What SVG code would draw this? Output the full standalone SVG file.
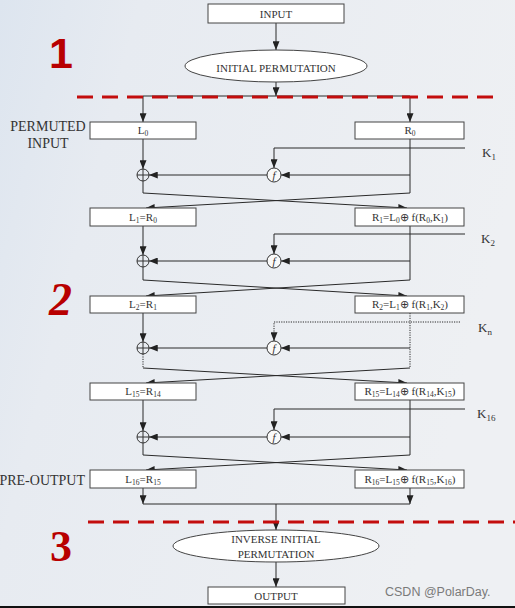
<svg xmlns="http://www.w3.org/2000/svg" width="515" height="608" viewBox="0 0 515 608">
<defs>
<linearGradient id="bg" x1="0" y1="0" x2="1" y2="0.3">
<stop offset="0" stop-color="#dde5ef"/>
<stop offset="0.25" stop-color="#e7ebf1"/>
<stop offset="1" stop-color="#eef0f3"/>
</linearGradient>
<marker id="ah" viewBox="0 0 10 8" refX="10" refY="4" markerWidth="9" markerHeight="7" orient="auto" markerUnits="userSpaceOnUse">
<path d="M0,0 L10,4 L0,8 z" fill="#222"/>
</marker>
<style>
.box{fill:#fff;stroke:#444;stroke-width:1}
.ell{fill:#fff;stroke:#444;stroke-width:1}
.t{font-family:"Liberation Serif","Times New Roman",serif;fill:#333;text-anchor:middle}
.bt{font-size:11px}
.lbl{font-family:"Liberation Serif","Times New Roman",serif;fill:#333;font-size:14px}
.k{font-family:"Liberation Serif","Times New Roman",serif;fill:#333;font-size:13px}
.ln{fill:none;stroke:#2a2a2a;stroke-width:1}
.ar{marker-end:url(#ah)}
.dot{stroke-dasharray:1.2 1.2}
.red{fill:none;stroke:#c30d0d;stroke-width:3;stroke-dasharray:16 9}
.num{fill:#b80000;font-weight:bold}
.xor{fill:none;stroke:#333;stroke-width:1}
.fc{fill:#f9f9f9;stroke:#333;stroke-width:1}
</style>
</defs>
<rect x="0" y="0" width="515" height="608" fill="url(#bg)"/>

<g id="connectors">
<line class="ln ar" x1="276" y1="23" x2="276" y2="50"/>
<line class="ln ar" x1="276" y1="82" x2="276" y2="96"/>
<polyline class="ln ar" points="276,96 143,96 143,122"/>
<polyline class="ln ar" points="276,96 410,96 410,122"/>

<line class="ln ar" x1="143" y1="139" x2="143" y2="169"/>
<line class="ln" x1="410" y1="139" x2="410" y2="193"/>
<line class="ln ar" x1="410" y1="175" x2="281" y2="175"/>
<line class="ln ar" x1="267" y1="175" x2="149" y2="175"/>
<polyline class="ln ar" points="465,148 274,148 274,168"/>
<polyline class="ln ar" points="143,181 143,193 407,208"/>
<polyline class="ln ar" points="410,193 146,208"/>

<line class="ln ar" x1="143" y1="226" x2="143" y2="255"/>
<line class="ln" x1="410" y1="226" x2="410" y2="280"/>
<line class="ln ar" x1="410" y1="261" x2="281" y2="261"/>
<line class="ln ar" x1="267" y1="261" x2="149" y2="261"/>
<polyline class="ln ar" points="465,234 274,234 274,254"/>
<polyline class="ln ar" points="143,267 143,280 407,296"/>
<polyline class="ln ar" points="410,280 146,296"/>

<line class="ln ar" x1="143" y1="313" x2="143" y2="342"/>
<line class="ln dot" x1="410" y1="313" x2="410" y2="368"/>
<line class="ln ar" x1="410" y1="348" x2="281" y2="348"/>
<line class="ln ar" x1="267" y1="348" x2="149" y2="348"/>
<polyline class="ln dot" points="460,322 274,322 274,334"/>
<line class="ln ar" x1="274" y1="333" x2="274" y2="341"/>
<line class="ln dot" x1="143" y1="354" x2="143" y2="368"/>
<polyline class="ln ar" points="143,368 407,383"/>
<polyline class="ln ar" points="410,368 146,383"/>

<line class="ln ar" x1="143" y1="400" x2="143" y2="431"/>
<line class="ln" x1="410" y1="400" x2="410" y2="455"/>
<line class="ln ar" x1="410" y1="437" x2="281" y2="437"/>
<line class="ln ar" x1="267" y1="437" x2="149" y2="437"/>
<polyline class="ln ar" points="465,409 274,409 274,430"/>
<polyline class="ln ar" points="143,443 143,455 407,470"/>
<polyline class="ln ar" points="410,455 146,470"/>

<line class="ln ar" x1="143" y1="488" x2="143" y2="504"/>
<line class="ln ar" x1="410" y1="488" x2="410" y2="504"/>
<line class="ln" x1="143" y1="504" x2="410" y2="504"/>
<line class="ln ar" x1="276" y1="504" x2="276" y2="530"/>
<line class="ln ar" x1="276" y1="562" x2="276" y2="587"/>
</g>

<g id="dividers">
<line class="red" x1="77" y1="97" x2="500" y2="97"/>
<line class="red" x1="88" y1="522" x2="515" y2="522"/>
<text class="num" x="49" y="68" font-size="43" font-family="'Liberation Sans',Arial,sans-serif">1</text>
<text class="num" x="49" y="315" font-size="46" font-style="italic" font-family="'Liberation Serif','Times New Roman',serif">2</text>
<text class="num" x="50" y="561" font-size="44" font-family="'Liberation Serif','Times New Roman',serif">3</text>
</g>

<g id="input">
<rect class="box" x="208" y="4" width="136" height="19"/>
<text class="t" x="276" y="18" font-size="11">INPUT</text>
</g>
<g id="ip">
<ellipse class="ell" cx="276" cy="66" rx="91" ry="16"/>
<text class="t" x="276" y="72" font-size="11">INITIAL PERMUTATION</text>
</g>

<g id="label-permuted">
<text class="lbl" x="48" y="131" text-anchor="middle">PERMUTED</text>
<text class="lbl" x="48" y="148" text-anchor="middle">INPUT</text>
</g>
<g id="label-preoutput">
<text class="lbl" x="85" y="485" text-anchor="end">PRE-OUTPUT</text>
</g>

<g id="L0"><rect class="box" x="90" y="122" width="106" height="17"/>
<text class="t bt" x="143" y="134">L<tspan dy="2" font-size="7.5">0</tspan></text></g>
<g id="R0"><rect class="box" x="355" y="122" width="109" height="17"/>
<text class="t bt" x="410" y="134">R<tspan dy="2" font-size="7.5">0</tspan></text></g>

<g id="L1"><rect class="box" x="90" y="208" width="106" height="18"/>
<text class="t bt" x="143" y="221">L<tspan dy="2" font-size="7.5">1</tspan><tspan dy="-2">=R</tspan><tspan dy="2" font-size="7.5">0</tspan></text></g>
<g id="R1"><rect class="box" x="355" y="208" width="109" height="18"/>
<text class="t bt" x="410" y="221">R<tspan dy="2" font-size="7.5">1</tspan><tspan dy="-2">=L</tspan><tspan dy="2" font-size="7.5">0</tspan><tspan dy="-2">⊕ f(R</tspan><tspan dy="2" font-size="7.5">0</tspan><tspan dy="-2">,K</tspan><tspan dy="2" font-size="7.5">1</tspan><tspan dy="-2">)</tspan></text></g>

<g id="L2"><rect class="box" x="90" y="296" width="106" height="17"/>
<text class="t bt" x="143" y="308">L<tspan dy="2" font-size="7.5">2</tspan><tspan dy="-2">=R</tspan><tspan dy="2" font-size="7.5">1</tspan></text></g>
<g id="R2"><rect class="box" x="355" y="296" width="109" height="17"/>
<text class="t bt" x="410" y="308">R<tspan dy="2" font-size="7.5">2</tspan><tspan dy="-2">=L</tspan><tspan dy="2" font-size="7.5">1</tspan><tspan dy="-2">⊕ f(R</tspan><tspan dy="2" font-size="7.5">1</tspan><tspan dy="-2">,K</tspan><tspan dy="2" font-size="7.5">2</tspan><tspan dy="-2">)</tspan></text></g>

<g id="L15"><rect class="box" x="90" y="383" width="106" height="17"/>
<text class="t bt" x="143" y="395">L<tspan dy="2" font-size="7.5">15</tspan><tspan dy="-2">=R</tspan><tspan dy="2" font-size="7.5">14</tspan></text></g>
<g id="R15"><rect class="box" x="355" y="383" width="109" height="17"/>
<text class="t bt" x="410" y="395">R<tspan dy="2" font-size="7.5">15</tspan><tspan dy="-2">=L</tspan><tspan dy="2" font-size="7.5">14</tspan><tspan dy="-2">⊕ f(R</tspan><tspan dy="2" font-size="7.5">14</tspan><tspan dy="-2">,K</tspan><tspan dy="2" font-size="7.5">15</tspan><tspan dy="-2">)</tspan></text></g>

<g id="L16"><rect class="box" x="90" y="470" width="106" height="18"/>
<text class="t bt" x="143" y="483">L<tspan dy="2" font-size="7.5">16</tspan><tspan dy="-2">=R</tspan><tspan dy="2" font-size="7.5">15</tspan></text></g>
<g id="R16"><rect class="box" x="355" y="470" width="109" height="18"/>
<text class="t bt" x="410" y="483">R<tspan dy="2" font-size="7.5">16</tspan><tspan dy="-2">=L</tspan><tspan dy="2" font-size="7.5">15</tspan><tspan dy="-2">⊕ f(R</tspan><tspan dy="2" font-size="7.5">15</tspan><tspan dy="-2">,K</tspan><tspan dy="2" font-size="7.5">16</tspan><tspan dy="-2">)</tspan></text></g>

<g id="xor1"><circle class="xor" cx="143" cy="175" r="6"/><path class="xor" d="M137,175 H149 M143,169 V181"/></g>
<g id="f1"><circle class="fc" cx="274" cy="175" r="7"/><text class="t" x="274" y="179" font-size="11" font-style="italic">f</text></g>
<g id="xor2"><circle class="xor" cx="143" cy="261" r="6"/><path class="xor" d="M137,261 H149 M143,255 V267"/></g>
<g id="f2"><circle class="fc" cx="274" cy="261" r="7"/><text class="t" x="274" y="265" font-size="11" font-style="italic">f</text></g>
<g id="xorn"><circle class="xor" cx="143" cy="348" r="6"/><path class="xor" d="M137,348 H149 M143,342 V354"/></g>
<g id="fn"><circle class="fc" cx="274" cy="348" r="7"/><text class="t" x="274" y="352" font-size="11" font-style="italic">f</text></g>
<g id="xor16"><circle class="xor" cx="143" cy="437" r="6"/><path class="xor" d="M137,437 H149 M143,431 V443"/></g>
<g id="f16"><circle class="fc" cx="274" cy="437" r="7"/><text class="t" x="274" y="441" font-size="11" font-style="italic">f</text></g>

<g id="K1"><text class="k" x="482" y="157">K<tspan dy="3" font-size="9">1</tspan></text></g>
<g id="K2"><text class="k" x="481" y="243">K<tspan dy="3" font-size="9">2</tspan></text></g>
<g id="Kn"><text class="k" x="478" y="332">K<tspan dy="3" font-size="9">n</tspan></text></g>
<g id="K16"><text class="k" x="477" y="418">K<tspan dy="3" font-size="9">16</tspan></text></g>

<g id="iip">
<ellipse class="ell" cx="276" cy="546" rx="103" ry="16"/>
<text class="t" x="276" y="543" font-size="11">INVERSE INITIAL</text>
<text class="t" x="276" y="558" font-size="11">PERMUTATION</text>
</g>
<g id="output">
<rect class="box" x="208" y="587" width="137" height="17"/>
<text class="t" x="276" y="600" font-size="11">OUTPUT</text>
</g>

<text x="385" y="596" font-family="'Liberation Sans',Arial,sans-serif" font-size="12.5" fill="#7a7a7a">CSDN @PolarDay.</text>
<rect x="0" y="606" width="515" height="2" fill="#111"/>
</svg>
